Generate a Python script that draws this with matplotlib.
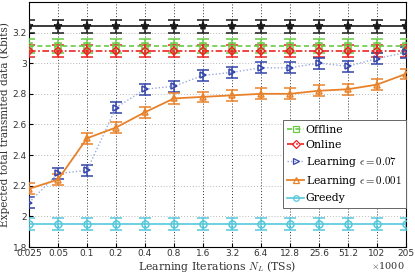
import matplotlib
matplotlib.use("Agg")
import matplotlib.pyplot as plt
from matplotlib.lines import Line2D
import numpy as np

plt.rcParams['mathtext.fontset'] = 'cm'

xlabels = ['0.025', '0.05', '0.1', '0.2', '0.4', '0.8', '1.6', '3.2', '6.4', '12.8', '25.6', '51.2', '102', '205']
upper = [3.24] * 14
offline = [3.11] * 14
online = [3.08] * 14
learn07 = [2.09, 2.28, 2.30, 2.71, 2.83, 2.85, 2.92, 2.94, 2.97, 2.97, 3.00, 2.98, 3.03, 3.07]
learn001 = [2.18, 2.24, 2.51, 2.58, 2.68, 2.77, 2.78, 2.79, 2.80, 2.80, 2.82, 2.83, 2.86, 2.93]
greedy = [1.95] * 14

err_upper = 0.045
err_offline = 0.045
err_online = 0.04
err_l07 = 0.035
err_l001 = 0.035
err_greedy = 0.04

fig = plt.figure(figsize=(4.15, 2.73), dpi=100)
ax = fig.add_axes([0.0699, 0.0952, 0.9081, 0.8978])
x = np.arange(len(xlabels))

handles = []
def series(y, err, color, ls, marker, label, lw=1.2, lcolor=None, ms=5, mfc='none'):
    ax.errorbar(x, y, yerr=err, color=lcolor or color, ls=ls, lw=lw,
                marker=marker, ms=ms, mfc=mfc, mec=color, mew=1.1,
                ecolor=color, elinewidth=1.1, capsize=4, capthick=1.1,
                zorder=3)
    if label:
        handles.append(Line2D([], [], color=lcolor or color, ls=ls, lw=lw,
                              marker=marker, ms=4, mfc='none', mec=color,
                              mew=0.9, label=label))

series(upper, err_upper, '#1a1a1a', '-', '*', None, ms=6, mfc='#1a1a1a')
series(offline, err_offline, '#66cc44', (0, (3, 2)), 's', 'Offline', ms=4)
series(online, err_online, '#ee2222', (0, (4, 1.5, 1, 1.5)), 'D', 'Online', ms=4)
series(learn07, err_l07, '#3344aa', (0, (1, 1.5)), '>', r'Learning $\epsilon=0.07$', lw=1.0, lcolor='#99aadd', ms=5)
series(learn001, err_l001, '#e8822a', '-', '^', r'Learning $\epsilon=0.001$', lw=1.3, ms=5)
series(greedy, err_greedy, '#55c8dc', '-', 'o', 'Greedy', ms=5)

ax.set_xlim(0, len(xlabels) - 1)
ax.set_ylim(1.8, 3.4)
ax.set_yticks([1.8, 2.0, 2.2, 2.4, 2.6, 2.8, 3.0, 3.2])
ax.set_yticklabels(['1.8', '2', '2.2', '2.4', '2.6', '2.8', '3', '3.2'])
ax.set_xticks(x)
ax.set_xticklabels(xlabels)
ax.tick_params(direction='in', labelsize=6.5, pad=1.5, length=3, labelcolor='#333333')
for lab in ax.get_xticklabels() + ax.get_yticklabels():
    lab.set_family('DejaVu Sans')

ax.xaxis.grid(True, ls=(0, (1, 2)), color='#333333', lw=0.7)
ax.yaxis.grid(True, ls=(0, (1, 2)), color='#bbbbbb', lw=0.7)
ax.set_axisbelow(True)
for s in ax.spines.values():
    s.set_linewidth(0.8)

ax.set_xlabel(r'Learning Iterations $N_L$ (TSs)', fontname='DejaVu Serif', fontsize=7.8,
              labelpad=0.5, color='#333333')
ax.set_ylabel('Expected total transmited data (Kbits)', fontname='DejaVu Serif', fontsize=7.6,
              labelpad=1.5, color='#333333')
fig.text(0.935, 0.028, r'$\times$1000', fontsize=7, fontname='DejaVu Serif', ha='center',
         va='center', color='#333333')

leg = ax.legend(handles=handles, loc='lower right', bbox_to_anchor=(1.0, 0.16),
                prop={'family': 'DejaVu Serif', 'size': 7.8}, fancybox=False,
                edgecolor='#666666', framealpha=1, handlelength=1.5,
                handletextpad=0.2, borderpad=0.4, labelspacing=0.48, borderaxespad=0.0)
leg.get_frame().set_linewidth(0.7)

fig.savefig('out.png', dpi=100)
